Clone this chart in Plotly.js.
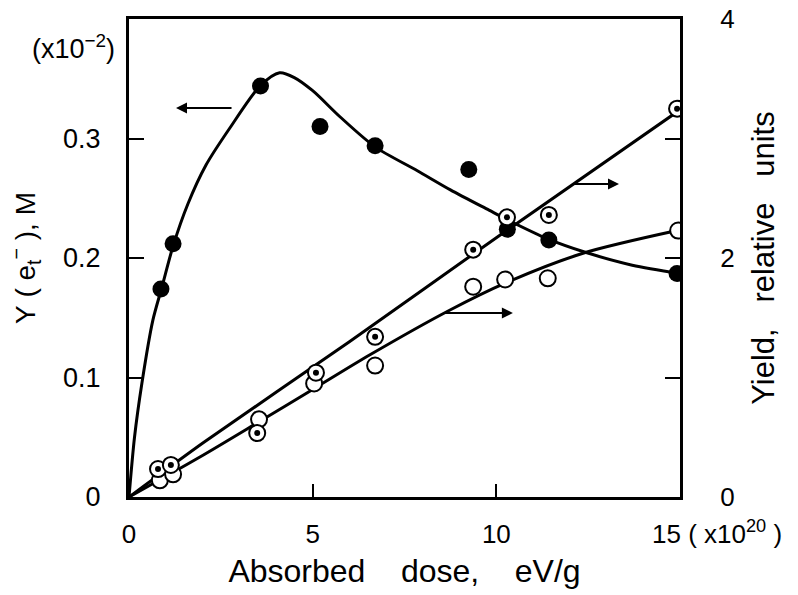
<!DOCTYPE html>
<html>
<head>
<meta charset="utf-8">
<script src="https://cdn.plot.ly/plotly-3.0.1.min.js"></script>
<style>html,body{margin:0;padding:0;background:#fff;}#chart{width:798px;height:595px;}</style>
</head>
<body>
<div id="chart"></div>
<script>
// Absorbed dose (x10^20 eV/g) and measured values
const filledX = [0.87, 1.2, 3.58, 5.2, 6.7, 9.25, 10.3, 11.43, 14.92];
const filledY = [0.174, 0.212, 0.344, 0.310, 0.294, 0.274, 0.224, 0.215, 0.187]; // Y(e_t^-), x10^-2 M

const dotX = [0.79, 1.14, 3.49, 5.09, 6.7, 9.37, 10.29, 11.43, 14.92];
const dotY = [0.234, 0.268, 0.535, 1.04, 1.34, 2.07, 2.34, 2.36, 3.25]; // yield, relative units

const openX = [0.84, 1.2, 3.54, 5.04, 6.7, 9.37, 10.24, 11.4, 14.95];
const openY = [0.14, 0.19, 0.65, 0.95, 1.10, 1.76, 1.82, 1.83, 2.23]; // yield, relative units

// Hand-drawn curves
const filledCurveX = [0, 0.15, 0.35, 0.65, 0.9, 1.2, 1.6, 2.1, 2.75, 3.57, 4.1, 4.5, 5.0, 5.75, 6.7, 7.85, 8.75, 9.8, 10.3, 11.4, 12.4, 13.7, 15];
const filledCurveY = [0, 0.05, 0.095, 0.148, 0.176, 0.21, 0.245, 0.278, 0.309, 0.344, 0.355, 0.351, 0.340, 0.318, 0.293, 0.273, 0.257, 0.240, 0.232, 0.216, 0.205, 0.194, 0.187];

const dotLineX = [0, 2, 6, 10, 15];
const dotLineY = [0, 0.45, 1.3, 2.17, 3.24];

const openCurveX = [0, 1.93, 3.54, 5.0, 6.56, 8.74, 10.24, 12.36, 14.92];
const openCurveY = [0, 0.335, 0.63, 0.9, 1.19, 1.565, 1.79, 2.04, 2.23];

const xTickVals = [0, 5, 10, 15];
const xTickText = ['0', '5', '10', ''];
const xLastTickLabel = '15';
const xScaleNote = '(\u00a0x10<sup>20</sup>\u00a0)';
const yLeftTickVals = [0, 0.1, 0.2, 0.3];
const yLeftTickText = ['0', '0.1', '0.2', '0.3'];
const yRightTickVals = [0, 1, 2, 3, 4];
const yRightTickText = ['0', '', '2', '', '4'];

const FONT = 'Liberation Sans, Arial, sans-serif';
const lineStyle = {color: 'black', width: 3};
const NB = n => '\u00a0'.repeat(n);

const traces = [
  {x: filledCurveX, y: filledCurveY, mode: 'lines', line: Object.assign({shape: 'spline', smoothing: 0.8}, lineStyle), yaxis: 'y', hoverinfo: 'skip'},
  {x: dotLineX, y: dotLineY, mode: 'lines', line: Object.assign({shape: 'spline', smoothing: 0.5}, lineStyle), yaxis: 'y2', hoverinfo: 'skip'},
  {x: openCurveX, y: openCurveY, mode: 'lines', line: Object.assign({shape: 'spline', smoothing: 0.8}, lineStyle), yaxis: 'y2', hoverinfo: 'skip'},
  {x: filledX, y: filledY, mode: 'markers', marker: {symbol: 'circle', size: 17, color: 'black'}, yaxis: 'y'},
  {x: openX, y: openY, mode: 'markers', marker: {symbol: 'circle', size: 16, color: 'white', line: {color: 'black', width: 2}}, yaxis: 'y2'},
  {x: dotX, y: dotY, mode: 'markers', marker: {symbol: 'circle', size: 16, color: 'white', line: {color: 'black', width: 2}}, yaxis: 'y2'},
  {x: dotX, y: dotY, mode: 'markers', marker: {symbol: 'circle', size: 6, color: 'black'}, yaxis: 'y2'}
];

const arrowBase = {text: '', showarrow: true, arrowhead: 2, arrowsize: 1.1, arrowwidth: 2, arrowcolor: 'black', axref: 'pixel', ayref: 'pixel', standoff: 0, startstandoff: 0};

const layout = {
  width: 798, height: 595,
  margin: {l: 129, r: 118, t: 19, b: 98},
  paper_bgcolor: 'white', plot_bgcolor: 'white',
  showlegend: false,
  font: {family: FONT, color: 'black'},
  xaxis: {
    range: [0, 15], tickvals: xTickVals, ticktext: xTickText,
    ticks: 'inside', ticklen: 13, tickwidth: 2, tickcolor: 'black',
    showline: true, linewidth: 3, linecolor: 'black', mirror: true,
    showgrid: false, zeroline: false,
    tickfont: {size: 26, family: FONT}, ticklabelstandoff: 12,
    title: {text: NB(5) + 'Absorbed' + NB(4) + 'dose,' + NB(4) + 'eV/g', font: {size: 32, family: FONT}, standoff: 12}
  },
  yaxis: {
    range: [0, 0.4], tickvals: yLeftTickVals, ticktext: yLeftTickText,
    ticks: 'inside', ticklen: 15, tickwidth: 2, tickcolor: 'black',
    showline: true, linewidth: 3, linecolor: 'black',
    showgrid: false, zeroline: false,
    tickfont: {size: 27, family: FONT}, ticklabelstandoff: 20,
    title: {text: 'Y\u00a0(\u00a0e<sub>t</sub><sup>\u2212</sup>\u00a0),\u00a0M', font: {size: 28, family: FONT}, standoff: 20}
  },
  yaxis2: {
    range: [0, 4], tickvals: yRightTickVals, ticktext: yRightTickText,
    overlaying: 'y', side: 'right',
    ticks: 'inside', ticklen: 15, tickwidth: 2, tickcolor: 'black',
    showline: true, linewidth: 3, linecolor: 'black',
    showgrid: false, zeroline: false,
    tickfont: {size: 26, family: FONT}, ticklabelstandoff: 32,
    title: {text: NB(8) + 'Yield,' + NB(3) + 'relative' + NB(3) + 'units', font: {size: 31, family: FONT}, standoff: 19}
  },
  annotations: [
    {xref: 'paper', yref: 'paper', x: -0.1, y: 0.941, xanchor: 'center', yanchor: 'middle', text: '(x10<sup>\u22122</sup>)', showarrow: false, font: {size: 27, family: FONT}},
    {xref: 'paper', yref: 'paper', x: 0.9456, y: -0.0753, xanchor: 'left', yanchor: 'middle', text: xLastTickLabel + NB(1) + xScaleNote, showarrow: false, font: {size: 26, family: FONT}},
    Object.assign({xref: 'x', yref: 'y', x: 1.28, y: 0.3255, ax: 57, ay: 0}, arrowBase),
    Object.assign({xref: 'x', yref: 'y', x: 13.34, y: 0.262, ax: -46, ay: 0}, arrowBase),
    Object.assign({xref: 'x', yref: 'y', x: 10.45, y: 0.154, ax: -70, ay: 0}, arrowBase)
  ]
};

Plotly.newPlot('chart', traces, layout, {staticPlot: true, displayModeBar: false});
</script>
</body>
</html>
